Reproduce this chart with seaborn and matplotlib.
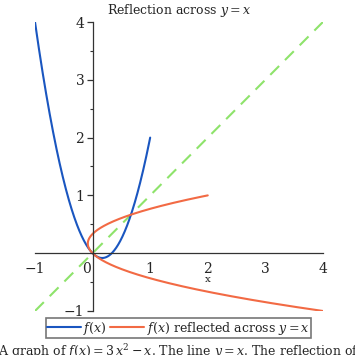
import numpy as np
import pandas as pd
import matplotlib
matplotlib.use("Agg")
import matplotlib.pyplot as plt
import matplotlib.transforms as mtransforms
import seaborn as sns
from matplotlib.ticker import MultipleLocator, FixedLocator

sns.set_theme(style="white")
plt.rcParams["font.family"] = ["DejaVu Serif"]
plt.rcParams["mathtext.fontset"] = "dejavuserif"

# f(x) = 3x^2 - x, read from the caption
coeffs = [3, -1, 0]
x_domain = [-1, 1]
diag = [-1, 4]
x_ticks = [-1, 0, 1, 2, 3, 4]
y_ticks = [-1, 1, 2, 3, 4]

xs = np.linspace(x_domain[0], x_domain[1], 300)
ys = np.polyval(coeffs, xs)
df = pd.DataFrame({"x": xs, "y": ys})
refl = pd.DataFrame({"x": ys, "y": xs})
line = pd.DataFrame({"x": diag, "y": diag})

fig = plt.figure(figsize=(3.55, 3.55), dpi=100)
ax = fig.add_axes([0.0986, 0.124, 0.811, 0.814])

sns.lineplot(data=line, x="x", y="y", ax=ax, color="#8ee36b", lw=1.5,
             linestyle=(0, (6, 4)), legend=False)
sns.lineplot(data=df, x="x", y="y", ax=ax, color="#1a56c0", lw=1.5,
             sort=False, label="$f(x)$")
sns.lineplot(data=refl, x="x", y="y", ax=ax, color="#f26a44", lw=1.5,
             sort=False, label="$f(x)$ reflected across $y=x$")

ax.set_xlim(-1, 4)
ax.set_ylim(-1, 4)
ax.spines["left"].set_position(("data", 0))
ax.spines["bottom"].set_position(("data", 0))
ax.spines["top"].set_visible(False)
ax.spines["right"].set_visible(False)
for s in ("left", "bottom"):
    ax.spines[s].set_color("#333333")
    ax.spines[s].set_linewidth(0.9)

ax.xaxis.set_major_locator(FixedLocator(x_ticks))
ax.xaxis.set_minor_locator(MultipleLocator(0.5))
ax.yaxis.set_major_locator(FixedLocator(y_ticks))
ax.yaxis.set_minor_locator(MultipleLocator(0.5))
ax.set_xticklabels(["\u22121", "0", "1", "2", "3", "4"])
ax.set_yticklabels(["\u22121", "1", "2", "3", "4"])
ax.tick_params(axis="x", which="major", direction="inout", length=6, width=0.9,
               labelsize=10, pad=3, color="#333333")
ax.tick_params(axis="x", which="minor", direction="inout", length=4, width=0.8,
               color="#333333")
ax.tick_params(axis="y", which="major", direction="out", length=4, width=0.9,
               labelsize=10, pad=2, left=True, color="#333333")
ax.tick_params(axis="y", which="minor", direction="out", length=2.5, width=0.8,
               left=True, color="#333333")
ax.set_xlabel("")
ax.set_ylabel("")
ax.text(2, -0.46, "x", ha="center", va="center", fontsize=7.5)

# shift the "0" label left of the y axis
zero = ax.get_xticklabels()[1]
zero.set_transform(zero.get_transform() + mtransforms.ScaledTranslation(-6.5 / 100, 0, fig.dpi_scale_trans))

ax.set_title("Reflection across $y = x$", fontsize=9, pad=6)

leg = ax.legend(loc="center", bbox_to_anchor=(0.502, 0.076), bbox_transform=fig.transFigure,
                ncol=2, fontsize=9, frameon=True, fancybox=False,
                handlelength=2.7, handletextpad=0.2, columnspacing=0.3,
                borderpad=0.12, borderaxespad=0)
leg.get_frame().set_edgecolor("#555555")
leg.get_frame().set_linewidth(1.2)

fig.text(-0.005, -0.003, "A graph of $f(x) = 3\\,x^2 - x$. The line $y = x$. The reflection of $f(x)$ across $y = x$.",
         ha="left", va="baseline", fontsize=9)

fig.savefig("out.png", dpi=100)
